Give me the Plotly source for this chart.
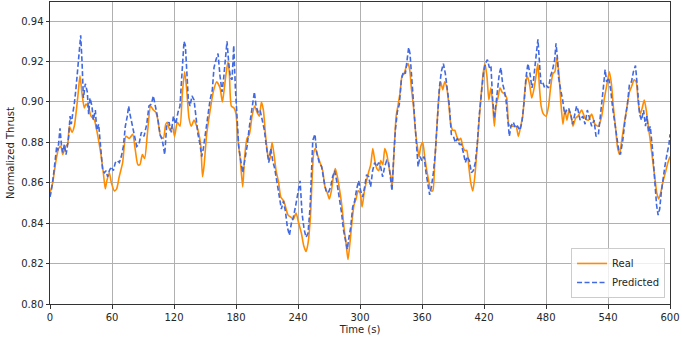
import plotly.graph_objects as go

# Real thrust
real_t = [0, 2.6, 5.8, 8.4, 10.6, 12.3, 14.8, 17, 18.7, 21.3, 23.5, 26.8, 29, 31, 33.2, 34.8, 37.4, 39.7,
          43, 46, 49.3, 51.6, 53.5, 55, 57.4, 59.4, 62.3, 64.5, 67, 70.3, 73.5, 76.8, 80, 82.6, 85, 87,
          89.4, 91.6, 94.2, 97.4, 100, 102.3, 104.5, 107, 109.7, 112, 113.5, 116, 118.4, 120.6, 123.2,
          125.8, 128, 130.3, 132.3, 134.5, 136.8, 139.4, 142, 144.2, 146, 147.6, 149, 151.6, 155, 158,
          161.3, 164.5, 166.8, 168.5, 170.4, 172.3, 173.6, 175.5, 178.1, 180, 182, 184.2, 186.5, 188.4,
          190.7, 193, 195.5, 198, 200.4, 202.6, 204.6, 206.5, 208.5, 210.7, 212.6, 214.9, 216.8, 218.8,
          221.3, 223.3, 226.2, 228.5, 230.4, 233, 235.5, 238.1, 240.7, 243.3, 245.5, 247.8, 249.7, 252,
          253.5, 255.2, 256.8, 258.7, 261.3, 263.9, 266.1, 268.4, 270.3, 272.3, 274.2, 276.1, 278.1,
          280.7, 282.6, 284.5, 286.5, 288.4, 290.4, 292.3, 294.2, 296.2, 298.1, 300.1, 302, 304, 305.9,
          308.2, 310.4, 312.4, 314.3, 316.3, 318.2, 320.1, 322.1, 324, 326, 327.9, 329.9, 331.1, 333.1,
          335, 337, 338.9, 340.7, 342.6, 344.5, 346.5, 348.1, 349.7, 351.7, 353.6, 355.5, 357.1, 358.8,
          360.7, 362.6, 364.6, 366.5, 368.4, 370.4, 372.3, 374.2, 376.2, 378.1, 380.1, 382, 384, 385.9,
          387.8, 389.8, 391.7, 393.6, 395.6, 397.5, 399.5, 401.4, 403.3, 405.3, 407.2, 409.2, 411.1, 413,
          415, 417, 418.9, 420.8, 422.8, 424.7, 426.7, 428.4, 430, 431.6, 433.5, 435.5, 437.4, 439.7,
          442, 443.9, 446.2, 448.4, 451, 453.3, 455.5, 457.5, 459.8, 461.7, 464, 466.2, 468.2, 470.4,
          472.1, 473.7, 475.3, 477.6, 480.2, 482.5, 484.4, 486.7, 488.6, 490.6, 492.5, 494.5, 496.4,
          498.3, 500.3, 502.2, 504.2, 506.1, 508.7, 511, 514.5, 517.8, 521, 524.2, 527.4, 530.7, 533.9,
          536.2, 538.7, 541.3, 543.3, 545.3, 547.2, 549.1, 551.1, 553.3, 555.6, 558.2, 560.8, 563.1,
          565.3, 567.3, 569.2, 571.2, 573.1, 575.1, 577, 579, 580.9, 583.5, 585.7, 587.2, 589, 591, 593,
          596, 598, 600]
real = [0.855, 0.860, 0.871, 0.877, 0.878, 0.874, 0.878, 0.879, 0.888, 0.885, 0.888, 0.902, 0.913, 0.904,
        0.897, 0.899, 0.897, 0.893, 0.891, 0.884, 0.874, 0.865, 0.857, 0.861, 0.865, 0.860, 0.856, 0.857,
        0.863, 0.870, 0.883, 0.882, 0.884, 0.876, 0.869, 0.869, 0.874, 0.872, 0.884, 0.898, 0.896, 0.895,
        0.891, 0.883, 0.882, 0.889, 0.890, 0.886, 0.888, 0.883, 0.890, 0.888, 0.904, 0.915, 0.906, 0.892,
        0.888, 0.891, 0.888, 0.884, 0.878, 0.863, 0.868, 0.884, 0.896, 0.905, 0.910, 0.907, 0.900, 0.906,
        0.914, 0.920, 0.914, 0.898, 0.897, 0.894, 0.881, 0.871, 0.858, 0.873, 0.882, 0.884, 0.893, 0.898,
        0.895, 0.893, 0.900, 0.896, 0.884, 0.874, 0.871, 0.880, 0.874, 0.866, 0.860, 0.853, 0.851, 0.847,
        0.844, 0.843, 0.842, 0.845, 0.840, 0.835, 0.829, 0.826, 0.830, 0.843, 0.860, 0.875, 0.877, 0.874,
        0.870, 0.866, 0.858, 0.855, 0.852, 0.856, 0.863, 0.867, 0.863, 0.855, 0.848, 0.838, 0.830, 0.822,
        0.831, 0.841, 0.849, 0.852, 0.856, 0.855, 0.848, 0.855, 0.860, 0.865, 0.869, 0.877, 0.871, 0.867,
        0.866, 0.871, 0.869, 0.877, 0.874, 0.868, 0.863, 0.858, 0.877, 0.893, 0.899, 0.905, 0.913, 0.914,
        0.917, 0.919, 0.916, 0.907, 0.898, 0.886, 0.878, 0.873, 0.878, 0.880, 0.873, 0.866, 0.861, 0.856,
        0.856, 0.870, 0.886, 0.902, 0.910, 0.906, 0.910, 0.907, 0.899, 0.889, 0.886, 0.886, 0.883, 0.881,
        0.882, 0.878, 0.876, 0.876, 0.868, 0.860, 0.856, 0.863, 0.875, 0.889, 0.902, 0.913, 0.919, 0.913,
        0.901, 0.907, 0.899, 0.888, 0.898, 0.902, 0.907, 0.905, 0.904, 0.902, 0.889, 0.888, 0.888, 0.888,
        0.883, 0.888, 0.893, 0.907, 0.913, 0.909, 0.902, 0.906, 0.913, 0.919, 0.907, 0.898, 0.894, 0.893,
        0.898, 0.907, 0.914, 0.915, 0.922, 0.914, 0.899, 0.889, 0.896, 0.891, 0.896, 0.893, 0.888, 0.892,
        0.893, 0.896, 0.892, 0.891, 0.894, 0.889, 0.888, 0.893, 0.901, 0.908, 0.915, 0.909, 0.897, 0.888,
        0.878, 0.874, 0.881, 0.889, 0.897, 0.905, 0.908, 0.911, 0.910, 0.900, 0.894, 0.897, 0.901, 0.896,
        0.888, 0.881, 0.870, 0.861, 0.855, 0.852, 0.855, 0.860, 0.866, 0.870, 0.873]

# Predicted thrust
pred_t = [0, 1.3, 3.2, 5.2, 6.5, 7.7, 9.7, 11, 12.3, 13.9, 15.5, 16.8, 18.1, 19.4, 20.6, 21.9, 23.5, 25.2,
          26.8, 28.4, 29.7, 31, 32.3, 34.2, 36.1, 37.4, 38.7, 40.6, 41.9, 43.9, 45.2, 47.1, 48.4, 49.7,
          51, 52.6, 54.2, 55.8, 57.4, 59.4, 61.3, 63.2, 65.2, 67.1, 69, 71, 72.9, 74.8, 76.1, 77.4, 79.4,
          81.3, 83.9, 86.1, 88.4, 91, 93.6, 95.8, 98.1, 100, 102.3, 103.9, 106.5, 108.7, 111, 112.9,
          115.2, 117.4, 119.4, 121.6, 123.9, 125.8, 127.1, 128.7, 129.7, 131, 132.3, 133.9, 135.5,
          137.4, 139.4, 141.3, 143.2, 145.2, 146.8, 148.4, 150, 152.3, 154.9, 157.1, 158.7, 160.7,
          162.6, 164.5, 166.5, 168.1, 169.7, 171.3, 173, 174.6, 176.2, 177.8, 179.4, 180.7, 182.6,
          184.6, 186.5, 188.4, 190.7, 193, 195.5, 197.8, 199.4, 201.3, 203.3, 205.2, 207.5, 209.4,
          211.7, 213.6, 215.5, 217.5, 219.7, 222, 223.9, 225.9, 227.8, 229.7, 231.7, 233.6, 235.5,
          237.5, 240.1, 242, 243.9, 245.9, 247.8, 249.7, 251.7, 253, 254.3, 256.4, 258.1, 260.6, 262.9,
          265.1, 267.1, 269.3, 271.6, 273.5, 275.5, 277.4, 280, 282.2, 283.9, 285.8, 287.7, 289, 291,
          292.9, 294.8, 296.8, 298.7, 300.6, 302.6, 304.5, 306.4, 308.4, 310.3, 312.2, 314.2, 316.1,
          318.1, 320, 321.9, 323.9, 325.8, 327.7, 329.7, 331, 332.3, 334.2, 336.1, 338.1, 340, 342,
          343.9, 345.8, 347.1, 348.4, 349.7, 351.3, 352.9, 354.5, 356.2, 358.1, 360, 362, 363.9, 365.8,
          367.4, 369.1, 371, 372.9, 374.9, 376.8, 378.7, 380.7, 382.6, 384.5, 386.5, 388.4, 390.4,
          392.3, 394.2, 396.2, 398.1, 400, 402, 403.9, 405.8, 407.8, 409.7, 411.6, 413.6, 415.5, 417.4,
          419.4, 421.3, 423.3, 425.2, 426.7, 428.4, 430, 431.6, 433.2, 434.8, 436.4, 438, 439.6, 441.3,
          442.9, 444.5, 446.1, 448.4, 450.3, 452.5, 454.8, 456.7, 459, 460.6, 462.5, 464.5, 466.4, 468,
          469.6, 470.9, 472.2, 473.5, 475.1, 476.7, 478.7, 480.6, 482.5, 484.5, 486.4, 488.4, 489.7,
          491, 492.2, 494.2, 496.1, 498, 500, 501.9, 503.9, 505.8, 507.7, 509.6, 511, 513, 515.6, 517.8,
          520, 522, 524.2, 526.5, 528.4, 530.7, 533, 535.5, 537.2, 538.7, 540.6, 542.6, 544.5, 546.5,
          548.5, 550.4, 552, 554.3, 556.5, 558.8, 560.8, 562.7, 564.6, 566.6, 568.5, 570.5, 572.4,
          574.4, 576.3, 577.6, 579.2, 580.9, 582.8, 585, 587, 588.5, 590, 591.5, 593, 595, 597, 599, 600]
pred = [0.853, 0.856, 0.863, 0.874, 0.878, 0.876, 0.887, 0.879, 0.875, 0.879, 0.874, 0.878, 0.883, 0.893,
        0.889, 0.894, 0.899, 0.907, 0.917, 0.927, 0.933, 0.920, 0.902, 0.909, 0.905, 0.894, 0.902, 0.898,
        0.891, 0.896, 0.886, 0.889, 0.881, 0.874, 0.866, 0.865, 0.866, 0.863, 0.866, 0.868, 0.866, 0.870,
        0.871, 0.870, 0.873, 0.878, 0.888, 0.893, 0.898, 0.894, 0.889,
        0.884, 0.878, 0.879, 0.885, 0.883, 0.889, 0.898, 0.899, 0.903, 0.898, 0.893, 0.884, 0.881, 0.874,
        0.888, 0.890, 0.885, 0.893, 0.889, 0.895, 0.898, 0.909, 0.922, 0.930, 0.928, 0.916, 0.901, 0.898,
        0.903, 0.901, 0.891, 0.884, 0.879, 0.873, 0.877, 0.883, 0.891, 0.901, 0.906, 0.917, 0.921, 0.924,
        0.913, 0.905, 0.912, 0.922, 0.930, 0.919, 0.912, 0.911, 0.928, 0.907, 0.894, 0.878, 0.871, 0.865,
        0.871, 0.878, 0.888, 0.898, 0.905, 0.898, 0.895, 0.896, 0.891, 0.886, 0.878, 0.870, 0.877, 0.871,
        0.867, 0.860, 0.853, 0.847, 0.851, 0.846, 0.838, 0.834, 0.840, 0.843, 0.848, 0.856, 0.861, 0.845,
        0.837, 0.833, 0.835, 0.848, 0.865, 0.881, 0.884, 0.875, 0.870, 0.868, 0.861, 0.856, 0.855, 0.858,
        0.863, 0.866, 0.861, 0.853, 0.845, 0.837, 0.832, 0.827, 0.832, 0.838, 0.848, 0.851, 0.857, 0.861,
        0.856, 0.853, 0.858, 0.864, 0.863, 0.858, 0.866, 0.870, 0.868, 0.870, 0.868, 0.863, 0.868, 0.871,
        0.870, 0.863, 0.856, 0.870, 0.886, 0.895, 0.899, 0.911, 0.915, 0.914, 0.922, 0.927, 0.924, 0.914,
        0.899, 0.888, 0.880, 0.868, 0.873, 0.871, 0.873, 0.865, 0.860, 0.854, 0.858, 0.865, 0.875, 0.893,
        0.907, 0.915, 0.919, 0.914, 0.907, 0.898, 0.884, 0.883, 0.880, 0.882, 0.879, 0.879, 0.875, 0.870,
        0.873, 0.871, 0.865, 0.866, 0.870, 0.880, 0.894, 0.904, 0.914, 0.919, 0.921, 0.917, 0.918, 0.901,
        0.892, 0.899, 0.906, 0.914, 0.917, 0.909, 0.906, 0.901, 0.892, 0.883, 0.888, 0.890, 0.887, 0.888,
        0.886, 0.890, 0.901, 0.912, 0.919, 0.914, 0.907, 0.911, 0.919, 0.926, 0.931, 0.921, 0.909, 0.910,
        0.907, 0.908, 0.907, 0.913, 0.916, 0.921, 0.929, 0.922, 0.912, 0.906, 0.901, 0.894, 0.896, 0.897,
        0.894, 0.889, 0.894, 0.898, 0.896, 0.891, 0.893, 0.889, 0.896, 0.892, 0.888, 0.891, 0.883, 0.884,
        0.894, 0.907, 0.916, 0.910, 0.912, 0.906, 0.897, 0.889, 0.881, 0.876, 0.874, 0.881, 0.891, 0.899,
        0.909, 0.910, 0.915, 0.918, 0.907, 0.894, 0.891, 0.896, 0.888, 0.893, 0.885, 0.888, 0.878, 0.860,
        0.849, 0.844, 0.847, 0.855, 0.862, 0.868, 0.874, 0.879, 0.884]

x_ticks = [0, 60, 120, 180, 240, 300, 360, 420, 480, 540, 600]
y_ticks = [0.80, 0.82, 0.84, 0.86, 0.88, 0.90, 0.92, 0.94]

fig = go.Figure()

fig.add_trace(go.Scatter(
    x=real_t, y=real, name="Real", mode="lines",
    line=dict(color="#ff8c00", width=1.6, shape="spline", smoothing=0.6)
))
fig.add_trace(go.Scatter(
    x=pred_t, y=pred, name="Predicted", mode="lines",
    line=dict(color="#4169e1", width=1.6, dash="5px,2.5px")
))

axis_style = dict(
    showgrid=True, gridcolor="#b0b0b0", gridwidth=1,
    showline=True, linecolor="#333333", linewidth=1, mirror=True,
    ticks="outside", ticklen=3.5, tickcolor="#333333",
    zeroline=False, tickfont=dict(size=10, color="#262626"),
)

fig.update_xaxes(
    range=[0, 600], tickvals=x_ticks,
    title=dict(text="Time (s)", font=dict(size=10, color="#262626"), standoff=4),
    **axis_style
)
fig.update_yaxes(
    range=[0.80, 0.9495], tickvals=y_ticks, tickformat=".2f",
    title=dict(text="Normalized Thrust", font=dict(size=10, color="#262626"), standoff=4),
    **axis_style
)

fig.update_layout(
    width=682, height=340,
    margin=dict(l=50, r=12, t=2, b=36),
    plot_bgcolor="white", paper_bgcolor="white",
    font=dict(family="DejaVu Sans", size=10, color="#262626"),
    legend=dict(
        x=0.992, y=0.02, xanchor="right", yanchor="bottom",
        bgcolor="rgba(255,255,255,0.8)", bordercolor="#cccccc", borderwidth=1,
        font=dict(size=10), itemwidth=30, tracegroupgap=0,
    ),
)

# the fixed-size figure should sit at the page's top-left corner
fig.write_html(
    "out.html",
    config={"displayModeBar": False},
    post_script="document.body.style.margin='0';",
)
